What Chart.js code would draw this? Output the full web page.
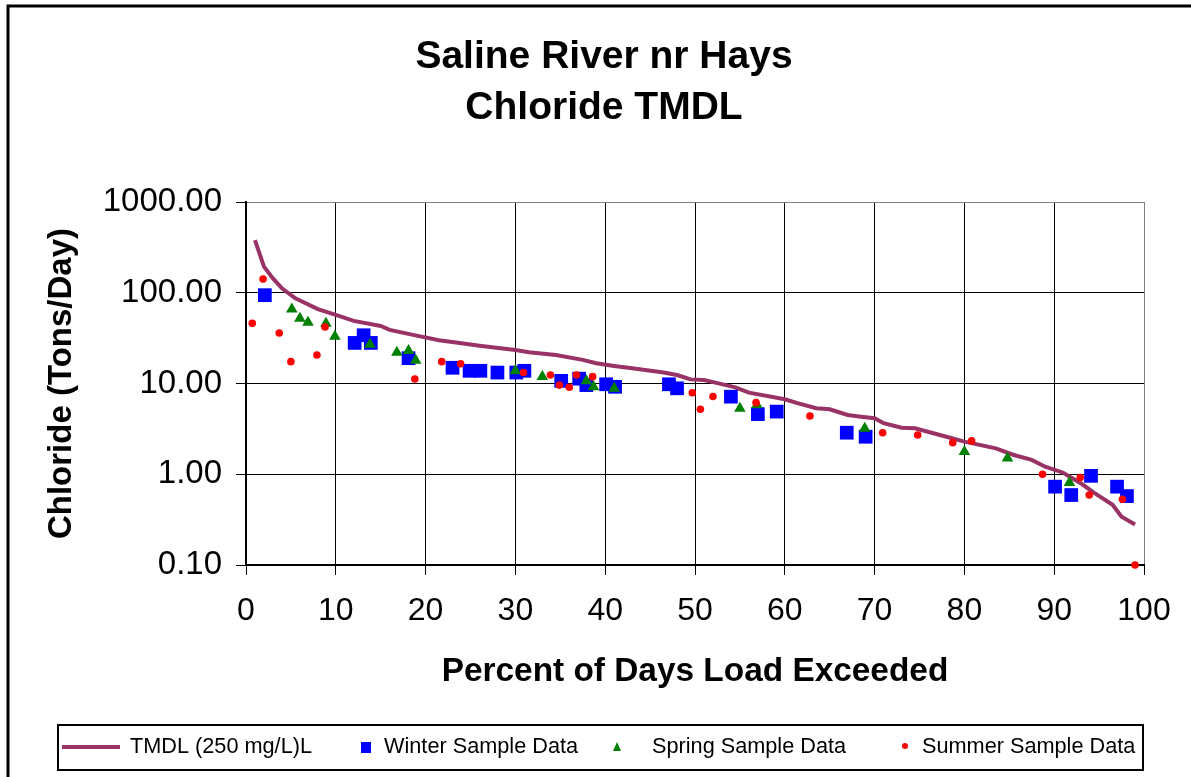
<!DOCTYPE html>
<html lang="en">
<head>
<meta charset="UTF-8">
<title>Saline River nr Hays - Chloride TMDL</title>
<script src="https://cdn.jsdelivr.net/npm/chart.js@4.4.1/dist/chart.umd.min.js"></script>
<style>
  body { margin: 0; background: #fff; }
  canvas { display: block; }
</style>
</head>
<body>
<canvas id="canvas" width="1191" height="777"></canvas>
<script>
// load duration curve (percent of days exceeded -> tons/day)
const tmdlX = [1, 2, 3, 4, 5.5, 8, 10, 12, 15, 16, 19, 21.5, 24, 26, 30, 31.5, 34.5, 37.5, 39, 41, 43, 46.5, 48, 49.5, 51, 52.5, 54.5, 56, 60, 61.5, 63.5, 65, 67, 68.5, 70, 71, 73, 74.5, 78, 80, 83.5, 85.5, 87.5, 89, 91, 93, 94.5, 96.5, 97.5, 99];
const tmdlY = [381, 194, 144, 112, 87, 66, 57, 49, 43, 39, 33.7, 30, 27.7, 26.1, 23.4, 22.1, 20.6, 18.2, 16.7, 15.6, 14.7, 13.2, 12.4, 11.1, 10.9, 10.1, 9.08, 7.92, 6.7, 6.05, 5.33, 5.2, 4.5, 4.31, 4.14, 3.65, 3.25, 3.21, 2.59, 2.29, 1.93, 1.63, 1.44, 1.21, 1.04, 0.79, 0.62, 0.46, 0.34, 0.28];

const winterX = [2.1, 12.1, 13.1, 13.9, 18.1, 23, 24.9, 26.1, 28, 30.1, 31, 35.1, 37.1, 37.9, 40.1, 41.1, 47.1, 48, 54, 57, 59.1, 66.9, 69, 90.1, 91.9, 94.1, 97, 98.1];
const winterY = [94, 28, 34, 28, 19, 14.9, 13.8, 13.8, 13.2, 13.2, 13.8, 10.7, 11.3, 9.6, 9.8, 9.2, 9.8, 8.85, 7.16, 4.6, 4.9, 2.87, 2.59, 0.73, 0.59, 0.96, 0.73, 0.575];

const springX = [5.1, 6, 6.9, 8.9, 9.9, 13.8, 16.8, 18.1, 18.9, 30, 33, 37.9, 38.7, 41, 55, 56.9, 68.9, 80, 84.8, 91.7];
const springY = [66, 52, 47, 46, 33, 27, 22, 23, 18, 13.8, 11.9, 10.7, 9.2, 8.85, 5.3, 5.8, 3.2, 1.77, 1.5, 0.81];

const summerX = [0.7, 1.9, 3.7, 5, 7.9, 8.8, 18.8, 21.8, 23.9, 30.9, 33.9, 34.9, 36, 36.8, 38.6, 49.7, 50.6, 52, 56.8, 62.8, 70.9, 74.8, 78.7, 80.8, 88.7, 92.9, 93.9, 97.6, 99];
const summerY = [46, 142, 36, 17.4, 20.6, 42, 11.2, 17.4, 16.5, 13.2, 12.4, 9.6, 9.1, 12.4, 11.9, 7.9, 5.2, 7.2, 6.15, 4.38, 2.87, 2.71, 2.23, 2.33, 1.0, 0.92, 0.59, 0.53, 0.1];

const yTicks = [0.1, 1, 10, 100, 1000];
const titleLines = ['Saline River nr Hays', 'Chloride TMDL'];
const seriesNames = ['TMDL (250 mg/L)L', 'Winter Sample Data', 'Spring Sample Data', 'Summer Sample Data'];

const FONT = "'Liberation Sans', Arial, sans-serif";
const pts = (xs, ys) => xs.map((x, i) => ({ x: x, y: ys[i] }));

// frame round the whole chart, title, and the boxed legend at the bottom
// (title drawn here because excel centres it on the frame, not the plot)
const frameAndLegend = {
  id: 'frameAndLegend',
  beforeDraw(chart) {
    const ctx = chart.ctx;
    ctx.save();
    ctx.fillStyle = '#fff';
    ctx.fillRect(0, 0, chart.width, chart.height);
    ctx.lineWidth = 3;
    ctx.strokeStyle = '#000';
    ctx.strokeRect(8, 6, 1250, 850);

    ctx.fillStyle = '#000';
    ctx.font = 'bold 39px ' + FONT;
    ctx.textAlign = 'center';
    ctx.textBaseline = 'middle';
    ctx.fillText(titleLines[0], 604, 57.5);
    ctx.fillText(titleLines[1], 604, 108.5);
    ctx.restore();
  },
  afterDraw(chart) {
    const ctx = chart.ctx;
    const cy = 747;
    ctx.save();
    ctx.lineWidth = 2;
    ctx.strokeStyle = '#000';
    ctx.strokeRect(58, 725, 1085, 45);

    ctx.strokeStyle = '#993366';
    ctx.lineWidth = 4;
    ctx.beginPath();
    ctx.moveTo(62, cy);
    ctx.lineTo(120, cy);
    ctx.stroke();

    ctx.fillStyle = '#0000ff';
    ctx.fillRect(361, cy - 5, 10, 11);

    ctx.fillStyle = '#008000';
    ctx.beginPath();
    ctx.moveTo(617, cy - 5);
    ctx.lineTo(621, cy + 4);
    ctx.lineTo(613, cy + 4);
    ctx.closePath();
    ctx.fill();

    ctx.fillStyle = '#ff0000';
    ctx.beginPath();
    ctx.arc(905, cy - 1, 3, 0, Math.PI * 2);
    ctx.fill();

    ctx.fillStyle = '#000';
    ctx.font = '21.7px ' + FONT;
    ctx.textBaseline = 'middle';
    ctx.textAlign = 'left';
    ctx.fillText(seriesNames[0], 130, cy);
    ctx.fillText(seriesNames[1], 384, cy);
    ctx.fillText(seriesNames[2], 652, cy);
    ctx.fillText(seriesNames[3], 922, cy);
    ctx.restore();
  }
};

new Chart(document.getElementById('canvas'), {
  type: 'scatter',
  data: {
    datasets: [
      {
        type: 'line',
        label: seriesNames[0],
        data: pts(tmdlX, tmdlY),
        borderColor: '#993366',
        borderWidth: 4,
        pointRadius: 0,
        tension: 0,
        order: 4
      },
      {
        label: seriesNames[1],
        data: pts(winterX, winterY),
        pointStyle: 'rect',
        pointRadius: 9.7,
        backgroundColor: '#0000ff',
        borderWidth: 0,
        clip: false,
        order: 3
      },
      {
        label: seriesNames[2],
        data: pts(springX, springY),
        pointStyle: 'triangle',
        pointRadius: 6.7,
        backgroundColor: '#008000',
        borderWidth: 0,
        clip: false,
        order: 2
      },
      {
        label: seriesNames[3],
        data: pts(summerX, summerY),
        pointStyle: 'circle',
        pointRadius: 3.8,
        backgroundColor: '#ff0000',
        borderWidth: 0,
        clip: false,
        order: 1
      }
    ]
  },
  options: {
    responsive: false,
    animation: false,
    layout: { padding: { left: 20, right: 47, top: 202, bottom: 57 } },
    plugins: {
      legend: { display: false },
      tooltip: { enabled: false },
      title: { display: false }
    },
    scales: {
      x: {
        type: 'linear',
        min: 0,
        max: 100,
        afterFit(scale) { scale.height = 155; },
        ticks: {
          stepSize: 10,
          color: '#000',
          padding: 17,
          maxRotation: 0,
          font: { family: FONT, size: 32 }
        },
        grid: {
          color: c => (c.tick && c.tick.value === 100 ? '#808080' : '#000'),
          tickColor: '#000',
          tickLength: 10,
          lineWidth: 1
        },
        border: { color: '#000', width: 2 },
        title: {
          display: true,
          text: 'Percent of Days Load Exceeded',
          color: '#000',
          font: { family: FONT, size: 33.4, weight: 'bold' },
          padding: { top: 0, bottom: 28 }
        }
      },
      y: {
        type: 'logarithmic',
        min: 0.1,
        max: 1000,
        afterFit(scale) { scale.width = 226; },
        afterBuildTicks(scale) { scale.ticks = yTicks.map(v => ({ value: v })); },
        ticks: {
          color: '#000',
          padding: 14,
          font: { family: FONT, size: 33 },
          callback: v => Number(v).toFixed(2)
        },
        grid: {
          color: c => (c.tick && c.tick.value === 1000 ? '#808080' : '#000'),
          tickColor: '#000',
          tickLength: 10,
          lineWidth: 1
        },
        border: { color: '#000', width: 2 },
        title: {
          display: true,
          text: 'Chloride (Tons/Day)',
          color: '#000',
          font: { family: FONT, size: 33, weight: 'bold' },
          padding: { top: 22, bottom: 0 }
        }
      }
    }
  },
  plugins: [frameAndLegend]
});
</script>
</body>
</html>
